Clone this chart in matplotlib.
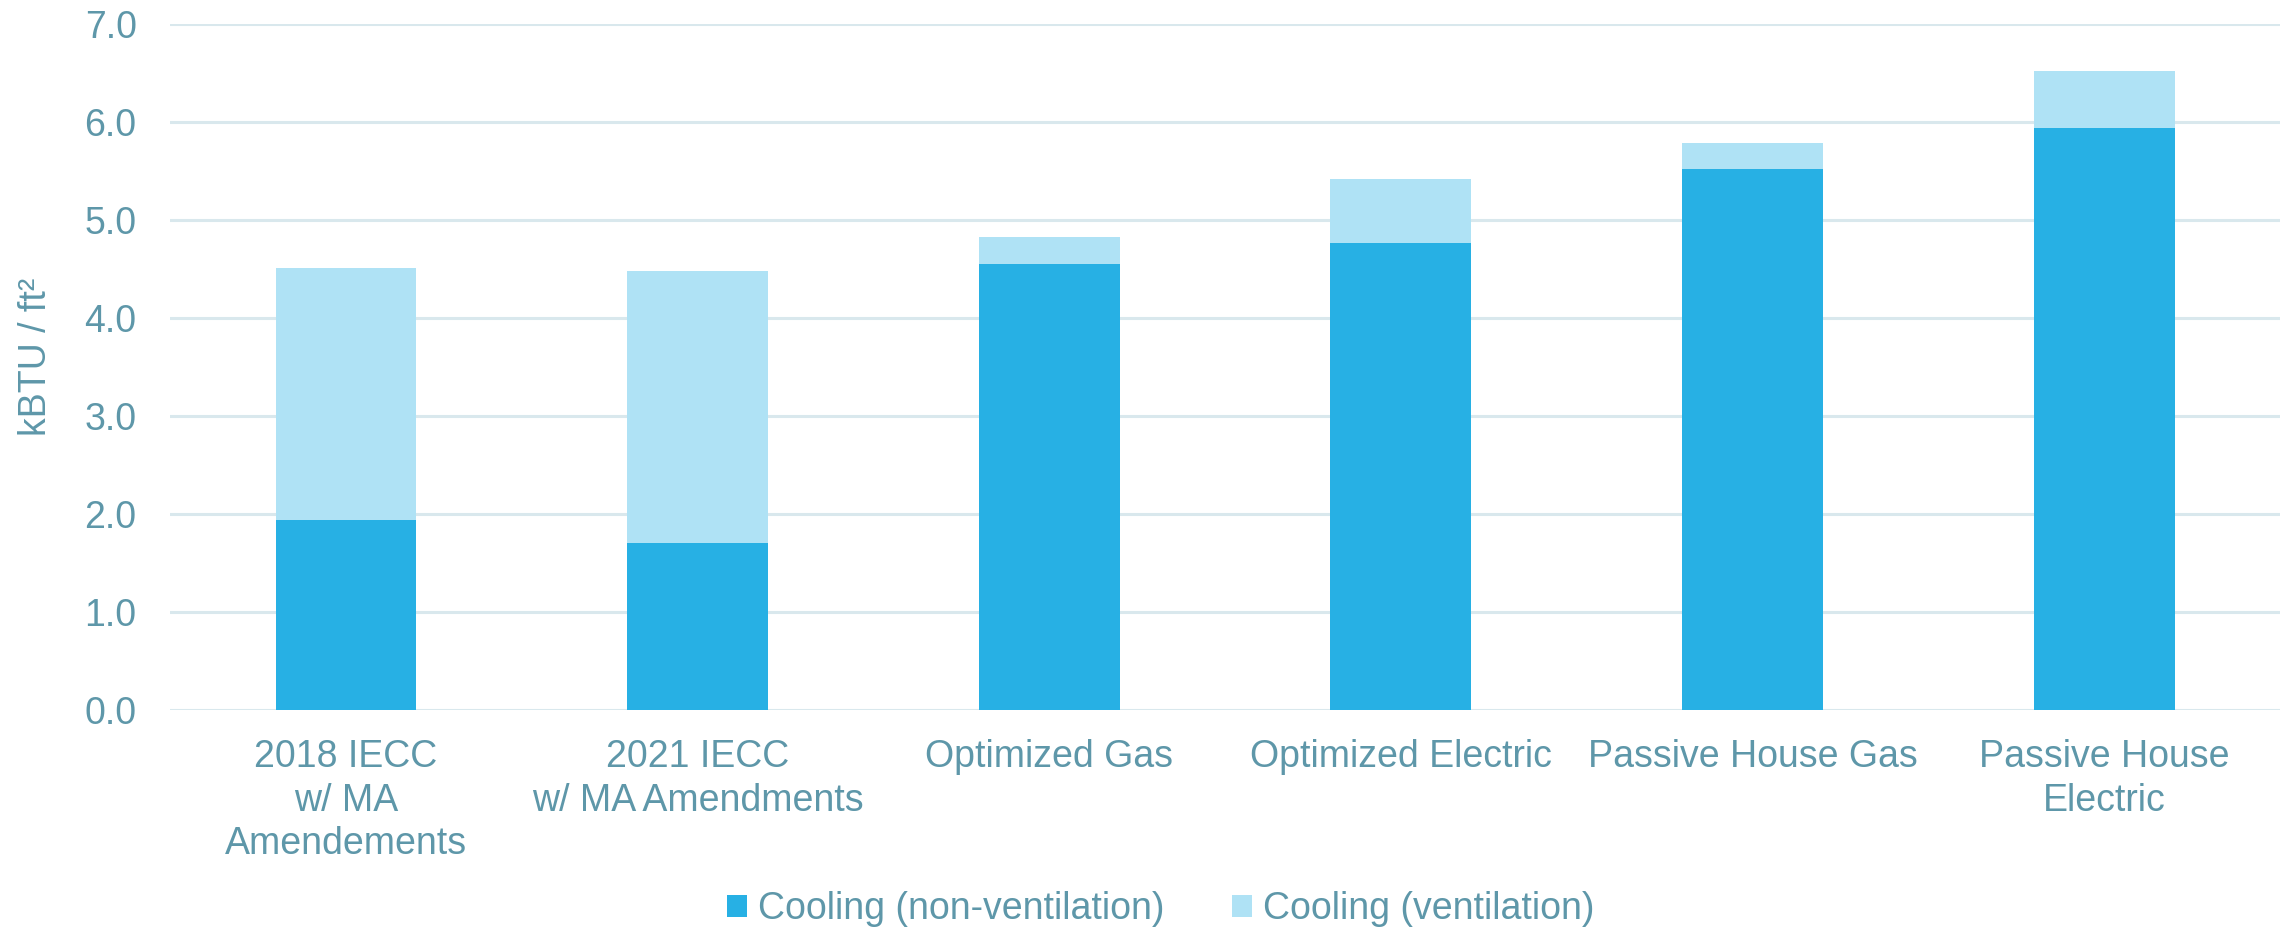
import matplotlib
import numpy as np

matplotlib.use("Agg")
import matplotlib.pyplot as plt  # noqa: E402

# values (kBTU / ft2)
categories = ["2018 IECC\nw/ MA\nAmendements", "2021 IECC\nw/ MA Amendments",
              "Optimized Gas", "Optimized Electric", "Passive House Gas",
              "Passive House\nElectric"]
cooling_nonvent = [1.94, 1.70, 4.55, 4.77, 5.52, 5.94]
cooling_vent = [2.57, 2.78, 0.28, 0.65, 0.27, 0.58]
series_names = ["Cooling (non-ventilation)", "Cooling (ventilation)"]
yticks = [0.0, 1.0, 2.0, 3.0, 4.0, 5.0, 6.0, 7.0]

DARK = "#27B0E4"
LIGHT = "#AFE2F5"
TEXT = "#5E97A9"
GRID = "#D9E8ED"
FS = 27

plt.rcParams["font.family"] = ["Liberation Sans", "DejaVu Sans"]

fig = plt.figure(figsize=(22.85, 9.27), dpi=100)
ax = fig.add_axes([170 / 2285, 1 - 710 / 927, 2110 / 2285, 686 / 927])

x = np.arange(len(categories))
ax.bar(x, cooling_nonvent, width=0.4, color=DARK, label=series_names[0], zorder=3)
ax.bar(x, cooling_vent, width=0.4, bottom=cooling_nonvent, color=LIGHT,
       label=series_names[1], zorder=3)

ax.set_xlim(-0.5, len(categories) - 0.5)
ax.set_ylim(0, 7)
ax.set_yticks(yticks)
ax.set_yticklabels([f"{v:.1f}" for v in yticks])
ax.set_xticks(x)
ax.set_xticklabels(categories, linespacing=1.27)
ax.yaxis.grid(True, color=GRID, linewidth=2.2, zorder=0)
ax.set_axisbelow(True)
for s in ax.spines.values():
    s.set_visible(False)
ax.tick_params(axis="both", length=0, labelsize=FS, colors=TEXT)
ax.tick_params(axis="y", pad=24)
ax.tick_params(axis="x", pad=21)
ax.set_ylabel("kBTU / ft²", fontsize=FS, color=TEXT, labelpad=22, y=0.515)

fig.legend(loc="center", bbox_to_anchor=(0.508, 0.019), ncol=2, frameon=False,
           fontsize=FS, labelcolor=TEXT, handlelength=0.52, handleheight=0.52,
           handletextpad=0.3, columnspacing=1.8, borderpad=0)

fig.savefig("out.png", dpi=100)
